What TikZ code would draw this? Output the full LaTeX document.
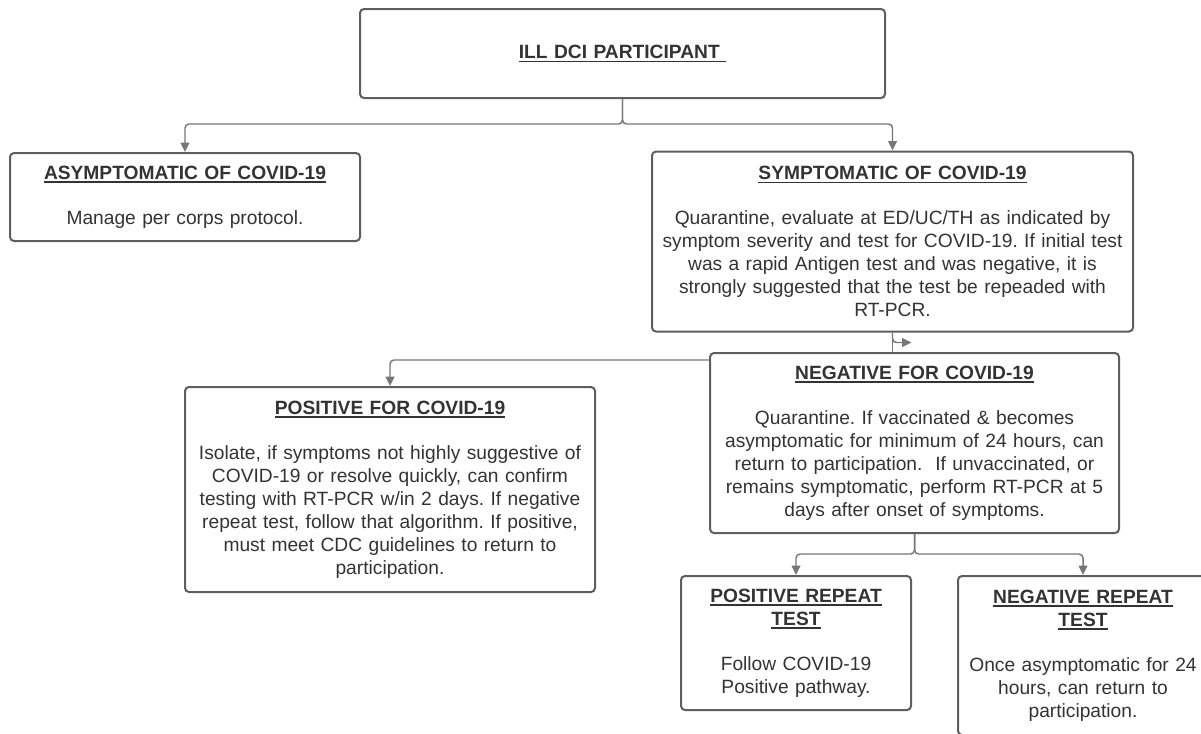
\documentclass[tikz,border=0pt]{standalone}
\usepackage{fontspec}
\setmainfont{Liberation Sans}
\usetikzlibrary{arrows.meta}

\definecolor{boxline}{HTML}{5E5E5E}
\definecolor{connline}{HTML}{777777}
\definecolor{txt}{HTML}{333333}

\newsavebox{\hdbox}
\newcommand{\hd}[1]{\sbox{\hdbox}{\textbf{#1}}%
  \leavevmode\rlap{\rule[-2.8pt]{\wd\hdbox}{1.1pt}}\usebox{\hdbox}}
\frenchspacing

\begin{document}
\begin{tikzpicture}[
  x=0.75pt, y=-0.75pt,
  cbox/.style={draw=boxline, line width=1.5pt, rounded corners=3pt, align=center,
    inner xsep=4pt, inner ysep=0pt, text=txt,
    font=\fontsize{14.4}{17.25}\selectfont},
  conn/.style={draw=connline, line width=1.1pt, rounded corners=3pt},
  >={Triangle[length=7pt,width=6.5pt]}
]
  \useasboundingbox (0,0) rectangle (1201,733);
  \clip (0,0) rectangle (1201,733);

  % boxes
  \node[cbox, text width=385.75pt, minimum height=66.75pt] (ill) at (622.5,53.5)
    {\hd{ILL DCI PARTICIPANT\ }};
  \node[cbox, text width=254.5pt, minimum height=66pt] (asym) at (185,197)
    {\hd{ASYMPTOMATIC OF COVID-19}\\[16.5pt]
     Manage per corps protocol.};
  \node[cbox, text width=352.75pt, minimum height=135pt] (sym) at (892.5,241.5)
    {\hd{SYMPTOMATIC OF COVID-19}\\[16.5pt]
     Quarantine, evaluate at ED/UC/TH as indicated by\\
     symptom severity and test for COVID-19. If initial test\\
     was a rapid Antigen test and was negative, it is\\
     strongly suggested that the test be repeaded with\\
     RT-PCR.};
  \node[cbox, text width=298.75pt, minimum height=135pt] (neg) at (914.5,443)
    {\hd{NEGATIVE FOR COVID-19}\\[16.5pt]
     Quarantine. If vaccinated \& becomes\\
     asymptomatic for minimum of 24 hours, can\\
     return to participation.\ \ If unvaccinated, or\\
     remains symptomatic, perform RT-PCR at 5\\
     days after onset of symptoms.};
  \node[cbox, text width=299.5pt, minimum height=153.75pt] (pos) at (390,489.5)
    {\hd{POSITIVE FOR COVID-19}\\[16.5pt]
     Isolate, if symptoms not highly suggestive of\\
     COVID-19 or resolve quickly, can confirm\\
     testing with RT-PCR w/in 2 days. If negative\\
     repeat test, follow that algorithm. If positive,\\
     must meet CDC guidelines to return to\\
     participation.};
  \node[cbox, text width=164.5pt, minimum height=100.5pt] (posrep) at (796,643)
    {\hd{POSITIVE REPEAT}\\ \hd{TEST}\\[16.5pt]
     Follow COVID-19\\
     Positive pathway.};
  \node[cbox, text width=179.5pt, minimum height=119.25pt] (negrep) at (1083,655.5)
    {\hd{NEGATIVE REPEAT}\\ \hd{TEST}\\[16.5pt]
     Once asymptomatic for 24\\
     hours, can return to\\
     participation.};

  % connectors
  \draw[conn, ->] (ill.south) -- ++(0,25) -| (asym.north);
  \draw[conn, ->] (ill.south) -- ++(0,25) -| (sym.north);
  \draw[conn] (sym.south) -- (sym.south |- neg.north);
  \draw[conn, ->] (sym.south) -- ++(0,10) -- ++(19,0);
  \draw[conn, ->] (neg.north west) ++(0,8) -| (pos.north);
  \draw[conn, ->] (neg.south) -- ++(0,20) -| (posrep.north);
  \draw[conn, ->] (neg.south) -- ++(0,20) -| (negrep.north);
\end{tikzpicture}
\end{document}
